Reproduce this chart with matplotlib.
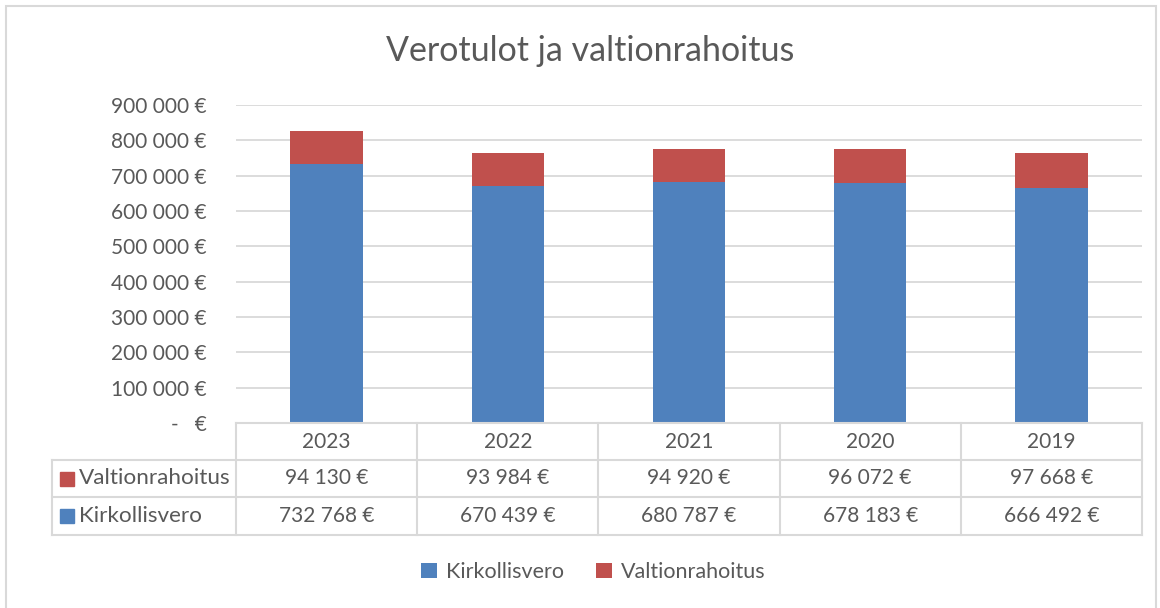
import matplotlib
matplotlib.use("Agg")
import matplotlib.pyplot as plt
from matplotlib.patches import Rectangle
from matplotlib.lines import Line2D

plt.rcParams['font.family'] = ['Lato', 'DejaVu Sans']

years = ['2023', '2022', '2021', '2020', '2019']
kirkollisvero = [732768, 670439, 680787, 678183, 666492]
valtionrahoitus = [94130, 93984, 94920, 96072, 97668]
yticks = [0, 100000, 200000, 300000, 400000, 500000, 600000, 700000, 800000, 900000]

BLUE = '#4F81BD'
RED = '#C0504D'
TXT = '#595959'
GRID = '#D9D9D9'

W, H = 1160, 608
fig = plt.figure(figsize=(W / 100, H / 100), dpi=100)


def fx(x):
    return x / W


def fy(y):
    return 1 - y / H


def fmt(v):
    if v == 0:
        return '-   €'
    return f'{v:,}'.replace(',', ' ') + ' €'


# chart border
fig.patches.append(Rectangle((fx(6), fy(612)), fx(1156) - fx(6), fy(6) - fy(612),
                             transform=fig.transFigure, fill=False, ec=GRID, lw=1.5))

left, right, top, bottom = 236, 1142, 105, 423
ax = fig.add_axes([fx(left), fy(bottom), fx(right) - fx(left), fy(top) - fy(bottom)])

x = range(len(years))
ax.bar(x, kirkollisvero, width=0.4, color=BLUE, zorder=2, label='Kirkollisvero')
ax.bar(x, valtionrahoitus, width=0.4, bottom=kirkollisvero, color=RED, zorder=2,
       label='Valtionrahoitus')
ax.set_xlim(-0.5, len(years) - 0.5)
ax.set_ylim(0, 900000)
ax.set_yticks(yticks)
ax.set_yticklabels([fmt(v) for v in yticks], color=TXT, fontsize=15)
ax.tick_params(axis='y', length=0, pad=21)
ax.set_xticks([])
ax.grid(axis='y', color=GRID, lw=1.3, zorder=0)
for s in ax.spines.values():
    s.set_visible(False)

fig.text(fx(590), fy(51), 'Verotulot ja valtionrahoitus', ha='center', va='center',
         fontsize=24.5, color=TXT)

# data table
col_w = (right - left) / len(years)
rows = [('Valtionrahoitus', RED, valtionrahoitus), ('Kirkollisvero', BLUE, kirkollisvero)]
row_y = [423, 460, 497, 535]
lc = dict(color=GRID, lw=1.5, transform=fig.transFigure)
fig.add_artist(Line2D([fx(left), fx(right)], [fy(423), fy(423)], **lc))
for yy in row_y[1:]:
    fig.add_artist(Line2D([fx(52), fx(right)], [fy(yy), fy(yy)], **lc))
fig.add_artist(Line2D([fx(52), fx(52)], [fy(460), fy(535)], **lc))
for i in range(len(years) + 1):
    xx = left + i * col_w
    fig.add_artist(Line2D([fx(xx), fx(xx)], [fy(423), fy(535)], **lc))
for i, yr in enumerate(years):
    fig.text(fx(left + (i + 0.5) * col_w), fy(441.5), yr, ha='center', va='center',
             fontsize=15, color=TXT)
for r, (name, col, vals) in enumerate(rows):
    yc = (row_y[r + 1] + row_y[r + 2]) / 2
    fig.patches.append(Rectangle((fx(60), fy(yc + 7)), fx(14), fy(0) - fy(14),
                                 transform=fig.transFigure, color=col))
    fig.text(fx(79), fy(yc), name, ha='left', va='center', fontsize=16.2, color=TXT)
    for i, v in enumerate(vals):
        fig.text(fx(left + (i + 0.5) * col_w), fy(yc), fmt(v), ha='center', va='center',
                 fontsize=15, color=TXT)

fig.legend(loc='center', bbox_to_anchor=(fx(593), fy(572)), ncol=2, frameon=False,
           fontsize=15.5, labelcolor=TXT, handlelength=0.75, handleheight=0.75,
           handletextpad=0.4, columnspacing=1.5)

fig.savefig('out.png', dpi=100)
